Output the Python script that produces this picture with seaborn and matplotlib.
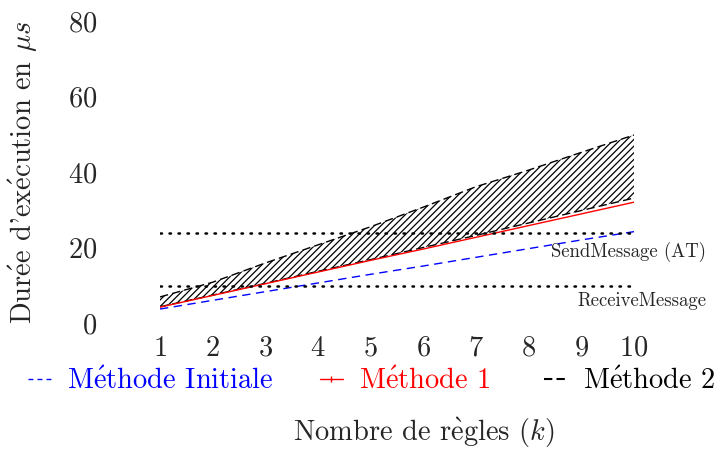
import matplotlib
matplotlib.use("Agg")
import matplotlib.pyplot as plt
import seaborn as sns
import pandas as pd
from matplotlib.lines import Line2D

k = [1, 2, 3, 4, 5, 6, 7, 8, 9, 10]
initiale = [3.7, 6.0, 8.3, 10.6, 12.9, 15.1, 17.4, 19.7, 22.0, 24.2]
methode1 = [4.2, 7.3, 10.4, 13.5, 16.6, 19.6, 22.7, 25.8, 28.9, 32.0]
methode2_bas = [4.3, 7.4, 10.5, 13.7, 16.8, 20.0, 23.2, 26.5, 29.8, 33.1]
methode2_haut = [6.9, 10.8, 15.9, 20.7, 25.5, 30.7, 36.1, 40.5, 45.2, 49.8]
send_at = 23.8
receive = 9.9
labels = ["Méthode Initiale", "Méthode 1", "Méthode 2"]
colors = ["blue", "red", "black"]


def cm(txt):
    # cmr10 has no accented glyphs: build them with mathtext accents
    return (txt.replace("é", r"$\acute{\mathrm{e}}$")
               .replace("è", r"$\grave{\mathrm{e}}$"))


sns.set_theme(style="white")
plt.rcParams["font.family"] = ["cmr10", "DejaVu Serif"]
plt.rcParams["mathtext.fontset"] = "cm"
plt.rcParams["axes.formatter.use_mathtext"] = True
plt.rcParams["hatch.linewidth"] = 0.9

W, H = 719, 450
fs = 20.5
fig = plt.figure(figsize=(W / 100, H / 100), dpi=100)
ax = fig.add_axes([160 / W, 1 - 323 / H, (634 - 160) / W, (323 - 21) / H])

df = pd.DataFrame({"k": k, "init": initiale, "m1": methode1,
                   "bas": methode2_bas, "haut": methode2_haut})

ax.fill_between(df["k"], df["bas"], df["haut"], facecolor="none",
                edgecolor="black", hatch="/////", linewidth=0)
sns.lineplot(data=df, x="k", y="haut", ax=ax, color="black", lw=1, linestyle=(0, (6, 3)))
sns.lineplot(data=df, x="k", y="bas", ax=ax, color="black", lw=1, linestyle=(0, (6, 3)))
sns.lineplot(data=df, x="k", y="m1", ax=ax, color="red", lw=1)
sns.lineplot(data=df, x="k", y="init", ax=ax, color="blue", lw=1, linestyle=(0, (6, 4)))

ax.plot([1, 10], [send_at, send_at], color="black", lw=1.8, linestyle=(0, (0.6, 3)), dash_capstyle="round")
ax.plot([1, 10], [receive, receive], color="black", lw=1.8, linestyle=(0, (0.6, 3)), dash_capstyle="round")
ax.text(11.37, 18.8, "SendMessage (AT)", ha="right", va="center", fontsize=13.5, clip_on=False)
ax.text(11.37, 5.8, "ReceiveMessage", ha="right", va="center", fontsize=13.5, clip_on=False)

ax.set_xlim(1, 10)
ax.set_ylim(0, 80)
ax.set_xticks(k)
ax.set_yticks([0, 20, 40, 60, 80])
ax.tick_params(axis="both", labelsize=fs, length=0)
ax.tick_params(axis="y", pad=45)
ax.tick_params(axis="x", pad=9)
ax.set_xlabel("")
ax.set_ylabel("")
for s in ax.spines.values():
    s.set_visible(False)
ax.patch.set_alpha(0)

handles = [
    Line2D([], [], color="blue", lw=1, linestyle=(0, (3.5, 3))),
    Line2D([], [], color="red", lw=1, marker="|", markersize=4),
    Line2D([], [], color="black", lw=1.5, linestyle=(0, (4, 2))),
]
# one legend per entry, the gaps between entries are not even
starts = [28, 320, 544]
for h, lab, col, x0 in zip(handles, labels, colors, starts):
    fig.legend([h], [cm(lab)], loc="center left", bbox_to_anchor=(x0 / W, 1 - 381 / H),
               frameon=False, fontsize=fs, handlelength=0.8, handletextpad=0.58,
               borderpad=0, borderaxespad=0, labelcolor=col)

fig.text(424 / W, 1 - 433 / H, cm("Nombre de règles ($k$)"), ha="center", va="center", fontsize=fs)
fig.text(23 / W, 1 - 172 / H, cm("Durée d'exécution en $\\mu s$"), ha="center", va="center",
         rotation=90, fontsize=fs)

fig.savefig("out.png", dpi=100)
